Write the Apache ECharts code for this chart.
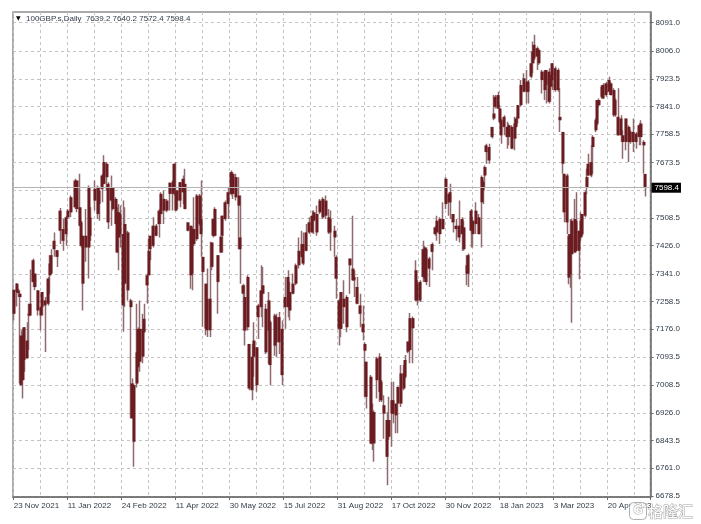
<!DOCTYPE html>
<html><head><meta charset="utf-8">
<style>html,body{margin:0;padding:0;background:#fff}#c{width:701px;height:524px}</style>
<script src="https://cdn.jsdelivr.net/npm/echarts@6/dist/echarts.min.js"></script>
</head><body><div id="c"></div>
<script>
const symbolName = '100GBP.s,Daily';
const lastQuote = [7639.2, 7640.2, 7572.4, 7598.4];
const currentPrice = 7598.4;
const dateLabels = ['23 Nov 2021','11 Jan 2022','24 Feb 2022','11 Apr 2022','30 May 2022','15 Jul 2022','31 Aug 2022','17 Oct 2022','30 Nov 2022','18 Jan 2023','3 Mar 2023','20 Apr 2023'];
const barsBetweenLabels = 36;
const totalBars = 425;
const yTicks = [8091.0,8006.0,7923.5,7841.0,7758.5,7673.5,7591.0,7508.5,7426.0,7341.0,7258.5,7176.0,7093.5,7008.5,6926.0,6843.5,6761.0,6678.5];
const yTickLabels = [8091.0,8006.0,7923.5,7841.0,7758.5,7673.5,7508.5,7426.0,7341.0,7258.5,7176.0,7093.5,7008.5,6926.0,6843.5,6761.0,6678.5];

const barNo = [
0,2,3,4,5,6,7,9,10,11,13,14,16,18,19,21,23,24,25,27,
29,31,33,35,36,38,41,42,44,45,46,48,50,51,54,56,57,59,60,62,
63,65,66,68,69,70,71,73,74,76,78,79,80,82,83,84,86,87,89,90,
91,93,95,97,98,100,102,104,106,107,108,109,111,113,114,116,118,119,120,122,
124,125,126,128,129,131,132,133,134,136,138,139,141,143,145,146,148,150,
151,153,154,156,157,159,160,162,163,165,
166,168,170,171,174,175,177,179,181,183,
184,186,188,190,192,193,195,197,199,200,
202,204,206,208,210,211,214,215,217,218,
220,222,224,226,227,229,231,233,234,235,
238,239,240,242,244,245,247,249,250,252,
253,255,256,258,260,261,263,264,266,268,
269,271,273,274,275,277,279,281,282,284,
286,288,290,291,293,295,297,299,300,302,303,
305,306,308,310,312,313,314,315,317,319,
320,321,323,324,325,327,329,330,332,334,
335,336,338,340,342,343,345,346,347,349,
350,352,354,355,357,358,359,361,363,364,
366,367,369,370,371,372,374,375,377,378,
379,381,382,383,385,386,388,389,390,392,
393,395,397,398,400,401,403,405,406,408,
410,411,413,415,417,418,420,421];

const highs = [
7294,7314,7297,7292,7172,7177,7182,7197,7252,7354,
7387,7342,7292,7242,7287,7272,7332,7397,7415,7465,
7412,7538,7505,7515,7535,7575,7625,7620,7640,7500,
7455,7535,7605,7540,7620,7605,7600,7640,7695,7675,
7615,7635,7600,7570,7540,7550,7545,7560,7540,7470,
7267,7029,7014,7252,7182,7262,7222,7252,7342,7445,
7455,7510,7490,7535,7585,7590,7565,7615,7620,7670,
7675,7590,7615,7635,7655,7495,7485,7480,7570,7580,
7580,7620,7392,7312,7357,7437,7435,7505,7540,7397,
7455,7515,7560,7600,7650,7645,7640,7630,
7575,7312,7307,7337,7132,7132,7197,7122,7252,7367,
7362,7252,7287,7202,7222,7222,7227,7202,7332,7352,
7317,7342,7372,7450,7470,7465,7490,7510,7530,7530,
7545,7565,7570,7575,7535,7530,7485,7397,7267,7287,
7322,7277,7387,7515,7352,7332,7282,7247,7137,7079,
7039,6954,6934,7094,7104,7024,6979,6929,6974,7019,
7019,6954,7004,7069,7069,7099,7139,7224,7214,7382,
7322,7322,7440,7425,7420,7392,7435,7485,7515,7510,
7555,7630,7580,7610,7520,7505,7560,7510,7500,7397,7402,
7535,7510,7555,7520,7635,7620,7665,7730,7730,7780,
7875,7875,7885,7845,7805,7815,7795,7790,7785,7810,
7810,7845,7920,7940,7950,7920,8005,8035,8055,8020,
8015,7950,7950,7950,7955,7935,7970,7960,7955,7895,
7765,7640,7640,7460,7505,7505,7565,7585,7470,7525,
7520,7590,7655,7700,7725,7755,7805,7860,7865,7905,
7910,7915,7930,7915,7895,7865,7895,7815,7770,7805,
7785,7770,7805,7765,7790,7800,7740,7640.2];

const lows = [
7202,7244,7272,7014,7009,6969,7049,7089,7114,7217,
7302,7292,7217,7172,7217,7108,7247,7282,7342,7392,
7362,7430,7410,7425,7505,7510,7535,7525,7485,7420,
7232,7377,7327,7440,7530,7505,7500,7555,7610,7590,
7475,7485,7530,7490,7405,7352,7420,7168,7242,7262,
6910,6910,6765,7002,7062,7049,7074,7167,7252,7337,
7382,7420,7455,7450,7490,7490,7525,7530,7530,7575,
7530,7535,7540,7550,7535,7470,7297,7292,7425,7440,
7485,7392,7183,7158,7153,7153,7352,7450,7455,7222,
7405,7405,7500,7505,7575,7565,7560,7415,
7312,7172,7127,7172,6994,6964,7034,6989,7147,7212,
7182,7102,7072,7009,7097,7092,7102,7009,7177,7212,
7202,7282,7307,7357,7392,7367,7410,7460,7465,7460,
7455,7520,7505,7505,7460,7410,7392,7267,7127,7152,
7192,7167,7282,7322,7272,7252,7182,7142,6974,6939,
6835,6815,6780,6969,6959,6959,6849,6710,6845,6825,
6895,6865,6865,6944,6994,7029,7104,7074,7074,7262,
7247,7257,7317,7317,7307,7302,7352,7455,7440,7430,
7475,7535,7515,7505,7465,7440,7435,7410,7410,7307,7302,
7420,7420,7460,7460,7420,7550,7600,7670,7670,7745,
7800,7835,7835,7790,7730,7755,7715,7725,7715,7710,
7780,7790,7840,7885,7850,7850,7925,7940,7980,7950,
7965,7880,7860,7850,7850,7855,7890,7885,7885,7765,
7640,7495,7460,7310,7300,7195,7405,7410,7325,7440,
7455,7510,7580,7635,7630,7640,7765,7785,7840,7865,
7865,7870,7875,7875,7810,7810,7755,7735,7685,7710,
7675,7730,7705,7715,7725,7725,7640,7572.4];

const bodyTop = [
7294,7312,7290,7282,7157,7157,7182,7142,7222,7252,
7382,7342,7292,7242,7287,7262,7327,7372,7397,7440,
7412,7530,7475,7510,7530,7570,7620,7620,7540,7495,
7455,7455,7600,7510,7595,7600,7590,7635,7675,7670,
7610,7600,7600,7565,7525,7525,7520,7460,7490,7465,
7262,7014,7009,7107,7177,7177,7177,7207,7337,7410,
7455,7485,7485,7530,7580,7565,7560,7613,7615,7670,
7590,7590,7615,7625,7610,7495,7485,7475,7475,7575,
7575,7505,7392,7312,7267,7267,7435,7505,7535,7397,
7452,7515,7555,7585,7645,7640,7630,7575,
7450,7307,7272,7332,7132,7094,7142,7122,7247,7292,
7307,7237,7262,7197,7217,7212,7212,7177,7272,7332,
7287,7312,7367,7410,7430,7430,7465,7495,7515,7525,
7520,7560,7565,7560,7510,7505,7470,7392,7262,7287,
7267,7272,7387,7357,7332,7302,7247,7192,7132,7079,
7034,6929,6929,7089,7094,7019,6949,6905,6905,6964,
6964,6954,7004,7044,7044,7084,7139,7209,7209,7352,
7312,7317,7415,7420,7415,7387,7430,7480,7500,7505,
7505,7625,7580,7585,7520,7485,7485,7505,7480,7367,7397,
7530,7500,7530,7510,7630,7615,7660,7725,7720,7780,
7820,7870,7875,7835,7800,7810,7780,7785,7780,7790,
7805,7845,7905,7925,7915,7915,7970,8005,8025,8015,
8010,7945,7945,7950,7945,7935,7970,7955,7950,7810,
7765,7640,7635,7455,7460,7500,7505,7500,7470,7500,
7520,7585,7630,7670,7675,7750,7800,7860,7860,7900,
7905,7910,7920,7910,7890,7860,7810,7805,7755,7805,
7780,7765,7765,7760,7785,7790,7735,7639.2];

const bodyBottom = [
7222,7287,7284,7272,7009,7024,7084,7089,7217,7217,
7317,7302,7232,7217,7242,7247,7252,7337,7342,7415,
7392,7470,7440,7460,7510,7525,7540,7535,7485,7425,
7312,7420,7420,7455,7560,7520,7550,7595,7610,7630,
7495,7560,7535,7490,7405,7450,7460,7247,7312,7292,
7242,6910,6840,7014,7064,7079,7094,7167,7307,7337,
7415,7425,7455,7490,7520,7530,7530,7580,7580,7590,
7530,7560,7560,7585,7535,7470,7337,7342,7430,7445,
7490,7460,7347,7178,7173,7173,7362,7455,7455,7317,
7405,7455,7505,7550,7580,7580,7570,7545,
7415,7282,7172,7182,6999,6994,7094,7009,7212,7242,
7282,7107,7172,7069,7127,7137,7137,7039,7242,7242,
7232,7282,7312,7367,7392,7372,7410,7465,7465,7500,
7465,7525,7510,7515,7465,7465,7450,7327,7177,7177,
7242,7182,7367,7322,7322,7252,7222,7167,7112,6974,
6835,6835,6835,7024,6989,6964,6924,6795,6855,6924,
6924,6919,6954,6954,6999,7034,7109,7114,7179,7262,
7262,7262,7332,7327,7317,7357,7407,7460,7465,7460,
7475,7550,7555,7555,7495,7475,7450,7460,7415,7342,7342,
7470,7460,7490,7460,7555,7590,7635,7705,7680,7750,
7805,7840,7835,7795,7755,7780,7750,7750,7715,7745,
7780,7805,7845,7885,7885,7885,7930,7970,7985,7990,
7970,7920,7890,7905,7855,7900,7920,7890,7890,7800,
7670,7525,7495,7330,7340,7400,7405,7410,7410,7450,
7460,7515,7600,7635,7635,7720,7770,7790,7845,7870,
7865,7875,7885,7875,7815,7815,7755,7755,7735,7735,
7735,7735,7735,7735,7750,7750,7725,7598.4];

const categories = Array.from({length: totalBars}, (_, i) =>
  i % barsBetweenLabels === 0 ? (dateLabels[i / barsBetweenLabels] || '') : '');
const wickData = barNo.map((n, i) => [n, bodyBottom[i], bodyBottom[i], lows[i], highs[i]]);
const bodyData = barNo.map((n, i) => [n, bodyTop[i], bodyBottom[i], bodyBottom[i], bodyTop[i]]);

const font = 'Liberation Sans';
const textColor = '#2f3a46';
const chart = echarts.init(document.getElementById('c'), null, {renderer: 'canvas'});
chart.setOption({
  animation: false,
  backgroundColor: '#fff',
  grid: {left: 13, right: 50.5, top: 12, bottom: 27, show: true, borderColor: '#8e8e8e', borderWidth: 1.5, containLabel: false},
  title: [
    {text: '▼', left: 16, top: 15, padding: 0, textStyle: {fontSize: 6, color: '#000', fontWeight: 'normal', fontFamily: 'DejaVu Sans'}},
    {text: symbolName + '  ' + lastQuote.map(v => v.toFixed(1)).join(' '), left: 26, top: 15, padding: 0, textStyle: {fontSize: 8, color: textColor, fontWeight: 'normal', fontFamily: font}},
    {text: '格隆汇', left: 648, top: 504, padding: 0, textStyle: {fontSize: 15, color: '#fff', fontWeight: 'normal', fontFamily: 'Noto Sans CJK SC', textBorderColor: '#a5a5a5', textBorderWidth: 1}}
  ],
  graphic: [
    {type: 'rect', left: 629, top: 502, z: 100, shape: {width: 17, height: 17, r: 4}, style: {fill: 'rgba(255,255,255,0.65)', stroke: '#b0b0b0', lineWidth: 1}},
    {type: 'text', left: 633, top: 504, z: 101, style: {text: 'G', fontSize: 12, fontWeight: 'bold', fontFamily: font, fill: '#fff', stroke: '#a5a5a5', lineWidth: 1}}
  ],
  xAxis: {
    type: 'category', data: categories, boundaryGap: true, position: 'bottom',
    axisLine: {show: true, lineStyle: {color: '#6a6a6a', width: 1.5}},
    axisTick: {show: true, interval: barsBetweenLabels - 1, length: 3, lineStyle: {color: '#6a6a6a'}},
    axisLabel: {interval: barsBetweenLabels - 1, align: 'left', margin: 5, fontSize: 8, color: textColor, fontFamily: font, hideOverlap: false},
    splitLine: {show: true, interval: barsBetweenLabels / 2 - 1, lineStyle: {color: '#c4c4c4', type: [3, 3], width: 1}}
  },
  yAxis: {
    type: 'value', position: 'right', min: 6675, max: 8123, scale: true,
    axisLine: {show: true, onZero: false, lineStyle: {color: '#6a6a6a', width: 1.5}},
    axisTick: {show: true, length: 3, customValues: yTicks, lineStyle: {color: '#6a6a6a'}},
    axisLabel: {customValues: yTickLabels, margin: 5, fontSize: 8, padding: [2, 0, 0, 0], color: textColor, fontFamily: font, formatter: v => v.toFixed(1)},
    splitLine: {show: true, lineStyle: {color: '#c4c4c4', type: [3, 3], width: 1}}
  },
  series: [
    {type: 'candlestick', name: 'range', data: wickData, encode: {x: 0, y: [1, 2, 3, 4]}, barWidth: 1.5,
     itemStyle: {color: '#8f6a6e', color0: '#8f6a6e', borderColor: '#8f6a6e', borderColor0: '#8f6a6e', borderWidth: 1.5},
     markLine: {silent: true, symbol: 'none', animation: false,
       data: [{yAxis: currentPrice}],
       lineStyle: {color: '#b4b4b4', type: 'solid', width: 1},
       label: {position: 'end', distance: 1, formatter: () => currentPrice.toFixed(1), color: '#fff', backgroundColor: '#000', padding: [1, 2, 1, 3], fontSize: 8, fontFamily: font}}},
    {type: 'candlestick', name: 'body', data: bodyData, encode: {x: 0, y: [1, 2, 3, 4]}, barWidth: 3.4,
     itemStyle: {color: '#6b1c20', color0: '#6b1c20', borderColor: '#6b1c20', borderColor0: '#6b1c20', borderWidth: 0}}
  ]
});
</script></body></html>
